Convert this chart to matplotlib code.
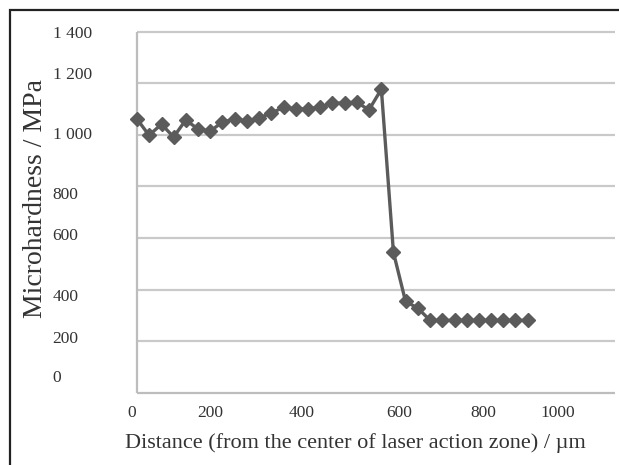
import matplotlib
matplotlib.use("Agg")
import matplotlib.pyplot as plt
from matplotlib.patches import Rectangle

# distance from the center of the laser action zone, um
distance = [0, 28, 57, 85, 113, 142, 170, 198, 227, 255, 283, 312, 340, 368, 397,
            425, 453, 482, 510, 538, 567, 595, 623, 652, 680, 708, 737, 765, 793,
            822, 850, 878, 907]
# microhardness, MPa
hardness = [1062, 999, 1042, 992, 1058, 1023, 1015, 1050, 1062, 1054, 1066, 1085,
            1108, 1101, 1101, 1108, 1124, 1124, 1128, 1097, 1178, 544, 354, 327,
            280, 280, 280, 280, 280, 280, 280, 280, 280]

grid_levels = [200, 400, 600, 800, 1000, 1200, 1400]
# tick labels as printed (they sit slightly off the grid lines in the original)
y_labels = ["1 400", "1 200", "1 000", "800", "600", "400", "200", "0"]
y_label_pos = [1400, 1242, 1006, 773, 614, 377, 215, 63]
x_labels = ["0", "200", "400", "600", "800", "1000"]
x_label_pos = [-12, 169, 383, 608, 803, 977]

plt.rcParams['font.family'] = ['Liberation Serif', 'DejaVu Serif']
txt = '#333333'
grid_c = '#c9c9c9'
line_c = '#5b5b5b'

fig = plt.figure(figsize=(6.19, 4.65), dpi=100)
fig.patches.append(Rectangle((10 / 619, -0.1), 1.2, 1 - 10 / 465 + 0.1,
                             transform=fig.transFigure, fill=False,
                             edgecolor='#222222', linewidth=1.6))

ax = fig.add_axes([131.8 / 619, 1 - 392.5 / 465, (615 - 131.8) / 619, 360.5 / 465])
ax.set_xlim(-12, 1109)
ax.set_ylim(0, 1400)
for s in ax.spines.values():
    s.set_visible(False)

ax.hlines(grid_levels, 0, 1109, colors=grid_c, linewidth=1.6, clip_on=False, zorder=1)
ax.hlines(0, 0, 1109, colors='#bdbdbd', linewidth=1.6, clip_on=False, zorder=1)
ax.vlines(0, 0, 1400, colors='#bdbdbd', linewidth=1.6, clip_on=False, zorder=1)

ax.plot(distance, hardness, color=line_c, linewidth=2.4, marker='D',
        markersize=7, markerfacecolor=line_c, markeredgecolor=line_c,
        clip_on=False, zorder=3)

ax.set_yticks(y_label_pos)
ax.set_yticklabels(y_labels, ha='left')
ax.tick_params(axis='y', length=0, pad=57, labelsize=12.5, labelcolor=txt)

ax.set_xticks(x_label_pos)
ax.set_xticklabels(x_labels)
ax.tick_params(axis='x', length=0, pad=9, labelsize=12.5, labelcolor=txt)

ax.set_xlabel("Distance (from the center of laser action zone) / µm",
              fontsize=16, color=txt, va='center')
ax.set_ylabel("Microhardness / MPa", fontsize=20, color=txt, va='center')
ax.xaxis.set_label_coords((355 - 131.8) / 483.2, (392.5 - 443) / 360.5)
ax.yaxis.set_label_coords((36 - 131.8) / 483.2, (392.5 - 198) / 360.5)

fig.savefig("out.png", dpi=100)
